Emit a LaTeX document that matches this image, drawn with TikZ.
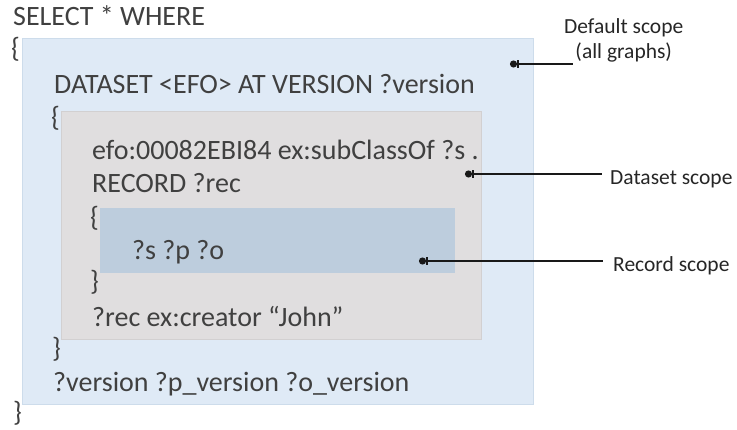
\documentclass[tikz,border=0pt]{standalone}
\usepackage{fontspec}
\setmainfont{Carlito}
\usetikzlibrary{arrows.meta,positioning}
\definecolor{defaultfill}{RGB}{223,234,246}
\definecolor{defaultline}{RGB}{205,220,235}
\definecolor{datasetfill}{RGB}{224,222,223}
\definecolor{datasetline}{RGB}{210,208,209}
\definecolor{recordfill}{RGB}{189,205,221}
\definecolor{codetext}{RGB}{64,64,64}
\tikzset{
    code/.style={anchor=base west, inner sep=0pt, text=codetext,
        font=\fontsize{28}{32}\selectfont},
    scopelabel/.style={anchor=base west, inner sep=0pt, text=black!85,
        font=\fontsize{21.5}{25}\selectfont},
    pointer/.style={line width=2pt, black!90,
        {Circle[length=7pt,width=7pt]Bar[width=8pt,line width=1.5pt]}-}
}
\begin{document}
\begin{tikzpicture}[x=1pt,y=-1pt]
\useasboundingbox (0,0) rectangle (737,430);
% scopes
\filldraw[fill=defaultfill,draw=defaultline] (22,38) rectangle (533,404);
\filldraw[fill=datasetfill,draw=datasetline] (61,111) rectangle (481,339);
\fill[recordfill] (100,208) rectangle (455,273);
% query text
\node[code] (select) at (13,26) {SELECT * WHERE};
\node[code] (open1) at (11,58) {\{};
\node[code] (dataset) at (54,94) {DATASET <EFO> AT VERSION ?version};
\node[code] (open2) at (51,127) {\{};
\node[code] (triple1) at (92,160) {efo:00082EBI84 ex:subClassOf ?s .};
\node[code] (record) at (92,193) {RECORD ?rec};
\node[code] (open3) at (90,227) {\{};
\node[code] (triple2) at (132,260) {?s ?p ?o};
\node[code] (close3) at (90,291) {\}};
\node[code] (triple3) at (92,327) {?rec ex:creator “John”};
\node[code] (close2) at (52,358) {\}};
\node[code] (versions) at (53,392) {?version ?p\_version ?o\_version};
\node[code] (close1) at (13,422) {\}};
% labels
\node[scopelabel,align=center] (defaultlbl) at (564,59) {Default scope\\(all graphs)};
\node[scopelabel] (datasetlbl) at (610,185) {Dataset scope};
\node[scopelabel] (recordlbl) at (613,272) {Record scope};
\coordinate (defaultpt) at (510,64);
\coordinate (datasetpt) at (465,174);
\coordinate (recordpt) at (419,261);
\draw[pointer] (defaultpt) -- ([xshift=9pt]defaultpt -| defaultlbl.west);
\draw[pointer] (datasetpt) -- ([xshift=-8pt]datasetpt -| datasetlbl.west);
\draw[pointer] (recordpt) -- ([xshift=-10pt]recordpt -| recordlbl.west);
\end{tikzpicture}
\end{document}
